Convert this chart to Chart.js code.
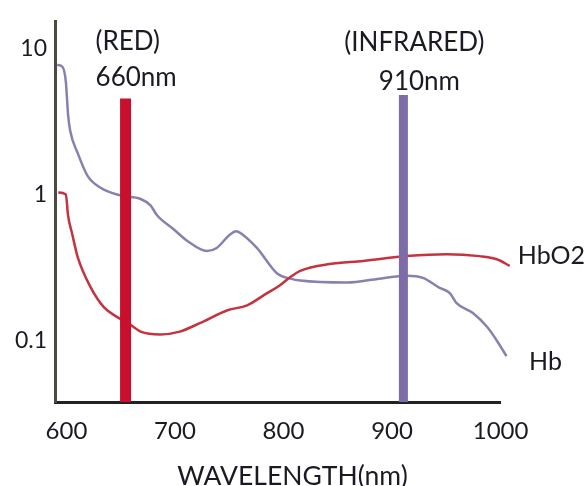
<!DOCTYPE html>
<html>
<head>
<meta charset="utf-8">
<script src="https://cdn.jsdelivr.net/npm/chart.js@4/dist/chart.umd.min.js"></script>
<style>
  html, body { margin: 0; padding: 0; background: #ffffff; }
  #c { display: block; }
</style>
</head>
<body>
<canvas id="c" width="587" height="486"></canvas>
<script>
// ---- data ----
const hbWavelengths = [597, 602, 605, 607, 609, 616, 625, 637, 655, 674, 683, 689, 704, 717, 735, 744, 756, 762, 768, 781, 800, 812, 821, 864, 894, 919, 934, 949, 959, 965, 980, 993, 1002, 1011, 1018];
const hbValues      = [7.7, 7.45, 5.9, 3.55, 2.73, 1.91, 1.34, 1.11, 0.985, 0.93, 0.84, 0.72, 0.58, 0.48, 0.41, 0.43, 0.53, 0.56, 0.53, 0.43, 0.286, 0.265, 0.257, 0.249, 0.265, 0.277, 0.268, 0.23, 0.21, 0.18, 0.154, 0.124, 0.10, 0.078, 0.064];

const hbo2Wavelengths = [598, 605, 607, 611, 616, 628, 640, 652, 662, 674, 692, 710, 729, 754, 772, 790, 802, 811, 821, 848, 879, 919, 956, 986, 1002, 1014];
const hbo2Values      = [1.03, 1.0, 0.72, 0.53, 0.37, 0.23, 0.169, 0.145, 0.132, 0.115, 0.11, 0.115, 0.132, 0.161, 0.174, 0.21, 0.238, 0.269, 0.30, 0.334, 0.35, 0.378, 0.39, 0.378, 0.36, 0.324];

const seriesNames = ['Hb', 'HbO2'];

const markerWavelengths = [660, 916];
const markerTops        = [4.54, 4.8];
const markerNames       = ['(RED)', '(INFRARED)'];
const markerLabels      = ['660nm', '910nm'];

const xTickValues = [600, 700, 800, 900, 1000];
const yTickValues = [0.1, 1, 10];
const xMin = 595, xMax = 1005;
const yMin = 0.0379, yMax = 15.2;
const xAxisTitle = 'WAVELENGTH(nm)';

// ---- styles ----
const TEXT = '#1a1a24';
const FONT = 'Lato, "Open Sans", sans-serif';
const HB_COLOR = '#8a80b0';
const HBO2_COLOR = '#c5333f';
const MARKER_COLORS = ['#c8102e', '#7d6ca8'];
const MARKER_WIDTHS = [11, 9];

const toXY = (xs, ys) => xs.map((v, i) => ({ x: v, y: ys[i] }));

const markerDatasets = markerWavelengths.map((w, i) => ({
  label: markerLabels[i],
  data: [{ x: w, y: yMin }, { x: w, y: markerTops[i] }],
  borderColor: MARKER_COLORS[i],
  borderWidth: MARKER_WIDTHS[i],
  borderCapStyle: 'butt',
  pointRadius: 0,
  tension: 0,
  clip: false
}));

const textPlugin = {
  id: 'textPlugin',
  afterDatasetsDraw(chart) {
    const { ctx, scales: { x, y } } = chart;
    ctx.save();
    ctx.fillStyle = TEXT;
    ctx.font = '26px ' + FONT;
    ctx.textBaseline = 'middle';
    // marker labels
    const offs = [
      { dx1: -30, dy1: -57, dx2: -30, dy2: -21, align: 'left' },
      { dx1: 11, dy1: -52, dx2: 16, dy2: -13, align: 'center' }
    ];
    markerWavelengths.forEach((w, i) => {
      const px = x.getPixelForValue(w);
      const top = y.getPixelForValue(markerTops[i]);
      ctx.textAlign = offs[i].align;
      ctx.fillText(markerNames[i], px + offs[i].dx1, top + offs[i].dy1);
      ctx.fillText(markerLabels[i], px + offs[i].dx2, top + offs[i].dy2);
    });
    // series labels at line ends
    ctx.font = '25px ' + FONT;
    ctx.textAlign = 'left';
    const hbEnd = hbWavelengths.length - 1;
    ctx.fillText(seriesNames[0], x.getPixelForValue(hbWavelengths[hbEnd]) + 15, y.getPixelForValue(hbValues[hbEnd]) - 7);
    const oEnd = hbo2Wavelengths.length - 1;
    ctx.fillText(seriesNames[1], x.getPixelForValue(hbo2Wavelengths[oEnd]) + 8, y.getPixelForValue(hbo2Values[oEnd]) - 10);
    // x axis title
    ctx.textAlign = 'center';
    ctx.font = '26.5px ' + FONT;
    ctx.fillText(xAxisTitle, (x.left + x.right) / 2 + 15, x.bottom - 10);
    ctx.restore();
  }
};

new Chart(document.getElementById('c'), {
  type: 'line',
  data: {
    datasets: [
      ...markerDatasets,
      {
        label: seriesNames[1],
        data: toXY(hbo2Wavelengths, hbo2Values),
        borderColor: HBO2_COLOR,
        borderWidth: 2.5,
        pointRadius: 0,
        cubicInterpolationMode: 'monotone',
        clip: false
      },
      {
        label: seriesNames[0],
        data: toXY(hbWavelengths, hbValues),
        borderColor: HB_COLOR,
        borderWidth: 2.5,
        pointRadius: 0,
        cubicInterpolationMode: 'monotone',
        clip: false
      }
    ]
  },
  options: {
    responsive: false,
    animation: false,
    devicePixelRatio: 1,
    layout: { padding: { top: 10, left: 0, right: 87, bottom: 0 } },
    plugins: { legend: { display: false }, tooltip: { enabled: false } },
    scales: {
      x: {
        type: 'linear',
        min: xMin,
        max: xMax,
        afterBuildTicks: s => { s.ticks = xTickValues.map(v => ({ value: v })); },
        afterFit: s => { s.height = 84; },
        grid: { display: false, drawTicks: false },
        border: { display: true, color: '#222222', width: 3 },
        ticks: {
          color: TEXT,
          font: { family: FONT, size: 24 },
          padding: 15,
          labelOffset: 6,
          maxRotation: 0,
          autoSkip: false,
          callback: v => String(v)
        }
      },
      y: {
        type: 'logarithmic',
        min: yMin,
        max: yMax,
        afterBuildTicks: s => { s.ticks = yTickValues.map(v => ({ value: v })); },
        afterFit: s => { s.width = 55; },
        grid: { display: false, drawTicks: false },
        border: { display: true, color: '#4d4a42', width: 3 },
        ticks: {
          color: TEXT,
          font: { family: FONT, size: 23 },
          padding: 8,
          autoSkip: false,
          callback: v => String(v)
        }
      }
    }
  },
  plugins: [textPlugin]
});
</script>
</body>
</html>
